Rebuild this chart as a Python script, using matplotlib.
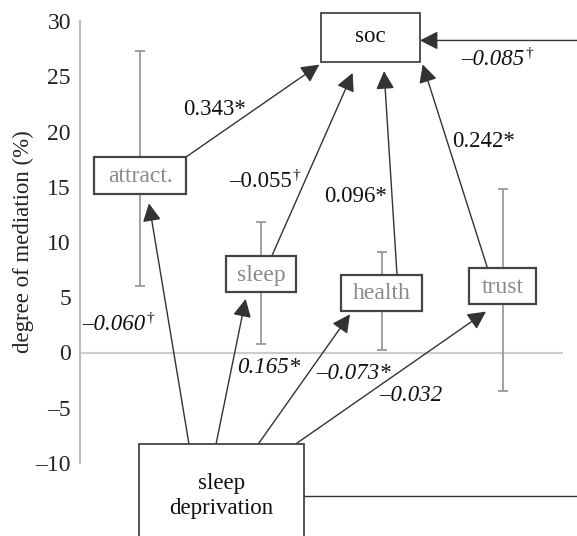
import matplotlib
matplotlib.use("Agg")
import matplotlib.pyplot as plt
from matplotlib.patches import Rectangle

# ---- data ----
categories = ["attract.", "sleep", "health", "trust"]
means = [16.0, 7.1, 5.4, 6.0]
ci_low = [6.0, 0.8, 0.2, -3.5]
ci_high = [27.3, 11.8, 9.1, 14.8]
yticks = [-10, -5, 0, 5, 10, 15, 20, 25, 30]
ytick_labels = ["–10", "–5", "0", "5", "10", "15", "20", "25", "30"]
coef_to_soc = ["0.343*", "–0.055", "0.096*", "0.242*"]
coef_to_soc_dagger = [False, True, False, False]
coef_from_sd = ["–0.060", "0.165*", "–0.073*", "–0.032"]
coef_from_sd_dagger = [True, False, False, False]
coef_direct = "–0.085"

# ---- layout ----
FONT = "Liberation Serif"
plt.rcParams["font.family"] = [FONT, "DejaVu Serif"]
fig = plt.figure(figsize=(5.77, 5.36), dpi=100)
ax = fig.add_axes([80 / 577, (536 - 463) / 536, 483 / 577, 442 / 536])
ax.set_xlim(0, 4)
ax.set_ylim(-10, 30)

xs = [i + 0.5 for i in range(len(categories))]
ax.axhline(0, color="#cccccc", lw=1.5, zorder=1)
err_lo = [m - l for m, l in zip(means, ci_low)]
err_hi = [h - m for m, h in zip(means, ci_high)]
ax.errorbar(xs, means, yerr=[err_lo, err_hi], fmt="none", ecolor="#9a9a9a",
            elinewidth=1.3, capsize=3.5, capthick=1.3, zorder=2)

for s in ["top", "right", "bottom"]:
    ax.spines[s].set_visible(False)
ax.spines["left"].set_color("#bbbbbb")
ax.spines["left"].set_linewidth(1.5)
ax.set_xticks([])
ax.set_yticks(yticks)
ax.set_yticklabels(ytick_labels, fontsize=17, color="#222222")
ax.tick_params(axis="y", length=0, pad=6.5)
ax.set_ylabel("degree of mediation (%)", fontsize=16.5, color="#222222", labelpad=1)

box_w = [0.76, 0.58, 0.67, 0.55]
box_h = 3.3
EDGE = "#444444"
for x, m, w, lab in zip(xs, means, box_w, categories):
    ax.add_patch(Rectangle((x - w / 2, m - box_h / 2), w, box_h, facecolor="white",
                           edgecolor=EDGE, lw=1.6, zorder=5, clip_on=False))
    ax.text(x, m - 0.1, lab, ha="center", va="center", fontsize=17, color="#8a8a8a",
            zorder=6, clip_on=False)

# soc box
soc_c, soc_w, soc_y, soc_h = 2.404, 0.822, 28.48, 4.42
ax.add_patch(Rectangle((soc_c - soc_w / 2, soc_y - soc_h / 2), soc_w, soc_h,
                       facecolor="white", edgecolor=EDGE, lw=1.3, zorder=5, clip_on=False))
ax.text(soc_c, soc_y + 0.1, "soc", ha="center", va="center", fontsize=16.5,
        color="#111111", zorder=6, clip_on=False)

# sleep deprivation box
sd_x0, sd_x1, sd_top = 0.491, 1.855, -8.32
ax.add_patch(Rectangle((sd_x0, -25), sd_x1 - sd_x0, sd_top + 25, facecolor="white",
                       edgecolor=EDGE, lw=1.3, zorder=5, clip_on=False))
ax.text((sd_x0 + sd_x1) / 2, -13.0, "sleep\ndeprivation", ha="center", va="center",
        fontsize=16.5, color="#111111", zorder=6, clip_on=False, linespacing=1.25)

ARROW = dict(arrowstyle="-|>,head_length=0.55,head_width=0.28", color="#333333",
             lw=1.0, shrinkA=0, shrinkB=0, mutation_scale=20)

def arrow(start, tip):
    ax.annotate("", xy=tip, xytext=start, arrowprops=ARROW,
                annotation_clip=False, zorder=4)

# mediators -> soc
arrow((0.870, 17.63), (1.982, 26.05))
arrow((1.588, 8.72), (2.258, 25.3))
arrow((2.625, 7.12), (2.518, 25.46))
arrow((3.373, 7.69), (2.838, 26.07))
# sleep deprivation -> mediators
arrow((0.903, sd_top), (0.571, 13.5))
arrow((1.126, sd_top), (1.372, 4.85))
arrow((1.474, sd_top), (2.236, 3.46))
arrow((1.781, sd_top), (3.362, 3.7))
# direct path (runs off the right edge)
ax.plot([sd_x1, 4.3], [-13.0, -13.0], color="#333333", lw=1.0, clip_on=False, zorder=4)
arrow((4.3, 28.24), (soc_c + soc_w / 2, 28.24))

def label(x, y, txt, dagger, italic, ha="center"):
    style = "italic" if italic else "normal"
    if dagger:
        ax.text(x, y, txt, ha="right", va="center", fontsize=16.5, style=style,
                color="#111111", zorder=6, clip_on=False)
        ax.text(x + 0.01, y + 0.55, "†", ha="left", va="center", fontsize=11,
                color="#111111", zorder=6, clip_on=False)
    else:
        ax.text(x, y, txt, ha=ha, va="center", fontsize=16.5, style=style,
                color="#111111", zorder=6, clip_on=False)

label(1.118, 21.98, coef_to_soc[0], coef_to_soc_dagger[0], False)
label(1.753, 15.49, coef_to_soc[1], coef_to_soc_dagger[1], False)
label(2.286, 14.1, coef_to_soc[2], coef_to_soc_dagger[2], False)
label(3.346, 19.08, coef_to_soc[3], coef_to_soc_dagger[3], False)
label(0.538, 2.49, coef_from_sd[0], coef_from_sd_dagger[0], True)
label(1.561, -1.4, coef_from_sd[1], coef_from_sd_dagger[1], True)
label(2.269, -1.86, coef_from_sd[2], coef_from_sd_dagger[2], True)
label(2.737, -3.85, coef_from_sd[3], coef_from_sd_dagger[3], True)
label(3.677, 26.5, coef_direct, True, True)

fig.savefig("out.png", dpi=100)
